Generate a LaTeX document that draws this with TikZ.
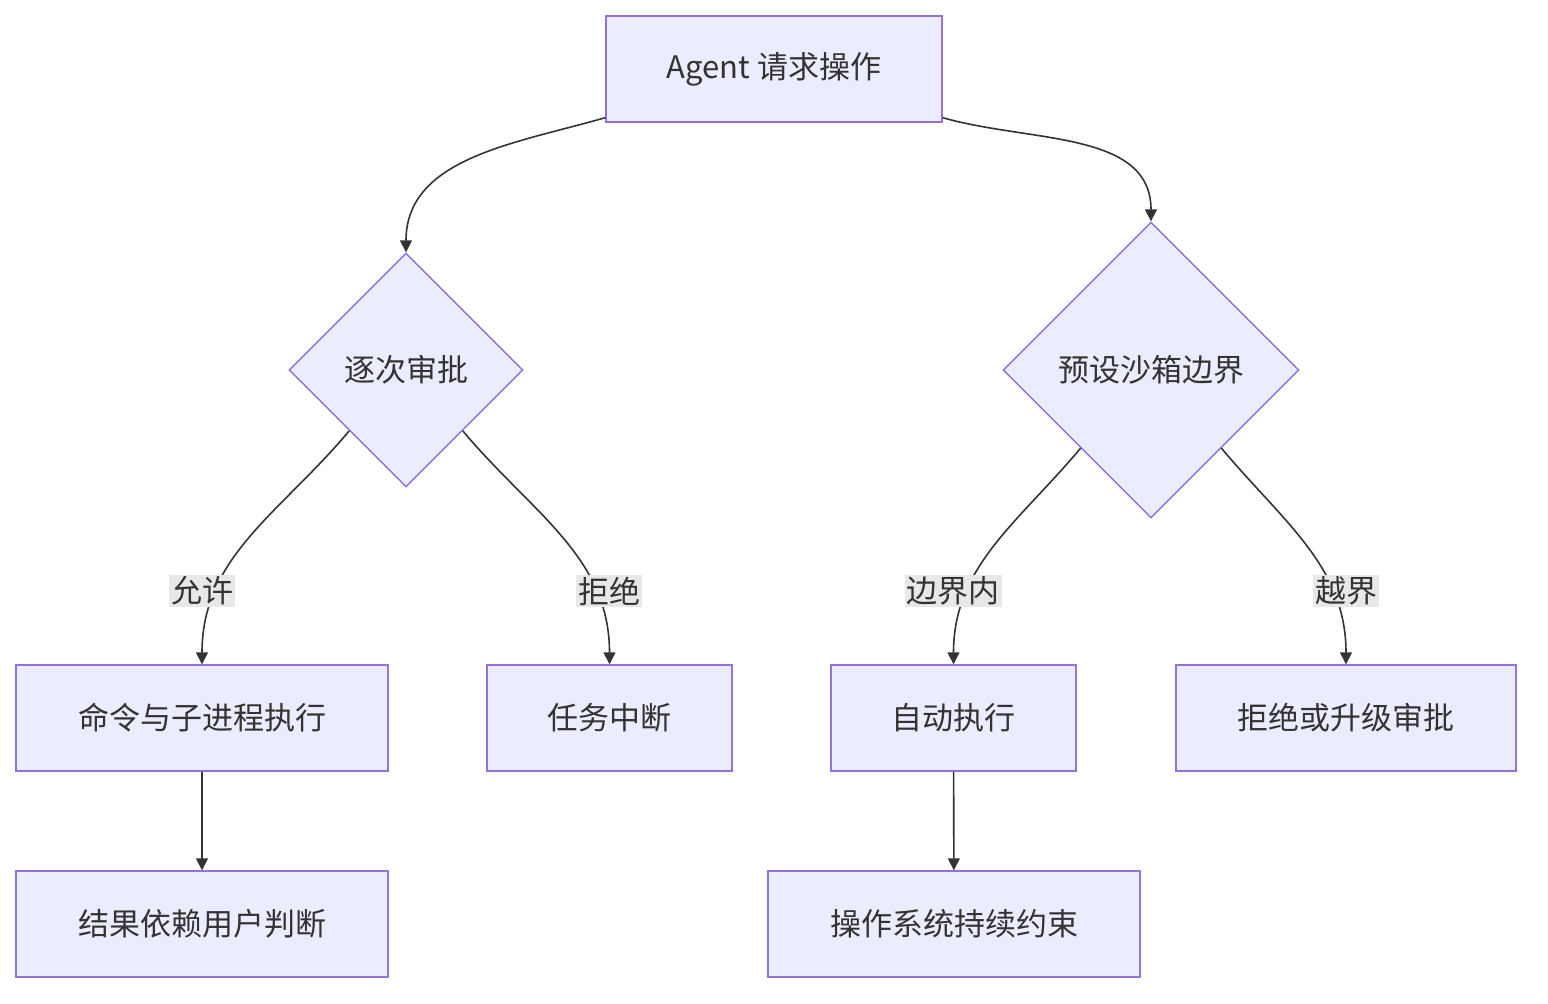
\documentclass[tikz,border=0pt]{standalone}
\usepackage{fontspec}
\setmainfont{Noto Sans CJK SC}
\usetikzlibrary{shapes.geometric,arrows.meta}
\definecolor{boxfill}{HTML}{ECECFF}
\definecolor{boxline}{HTML}{9370DB}
\definecolor{ink}{HTML}{333333}
\definecolor{lblbg}{HTML}{E8E8E8}
\tikzset{
  box/.style = {draw=boxline, fill=boxfill, line width=0.7pt, minimum height=53pt,
    inner sep=0pt, text=ink, font=\fontsize{15.5pt}{18pt}\selectfont},
  choice/.style = {diamond, draw=boxline, fill=boxfill, line width=0.7pt, inner sep=0pt,
    aspect=1, text=ink, font=\fontsize{15.5pt}{18pt}\selectfont},
  lbl/.style = {fill=lblbg, inner sep=1pt, text=ink, font=\fontsize{15.5pt}{18pt}\selectfont},
  arr/.style = {draw=ink, line width=0.8pt, -{Triangle[length=6pt,width=6pt]}},
}
\begin{document}
\begin{tikzpicture}[x=0.5pt, y=-0.5pt]
  \useasboundingbox (0,0) rectangle (1548,1004);
  \node[box, minimum width=168pt] (req) at (774, 69) {Agent 请求操作};
  \node[choice, minimum width=117pt, minimum height=117pt] (step) at (406, 370) {逐次审批};
  \node[choice, minimum width=148pt, minimum height=148pt] (sand) at (1151, 370) {预设沙箱边界};
  \node[box, minimum width=186pt] (run) at (202, 718) {命令与子进程执行};
  \node[box, minimum width=122.5pt] (stop) at (609.5, 718) {任务中断};
  \node[box, minimum width=122.5pt] (auto) at (953.5, 718) {自动执行};
  \node[box, minimum width=170pt] (deny) at (1346, 718) {拒绝或升级审批};
  \node[box, minimum width=186pt] (user) at (202, 924) {结果依赖用户判断};
  \node[box, minimum width=186pt] (os) at (954, 924) {操作系统持续约束};

  % connectors
  \draw[arr] ([yshift=2.5pt]req.south west) to[out=196, in=90] (step.north);
  \draw[arr] ([yshift=2.5pt]req.south east) to[out=-16, in=90] (sand.north);
  \draw[arr] (step.227) to[out=-130, in=90] (run.north);
  \draw[arr] (step.-47) to[out=-50, in=90] (stop.north);
  \draw[arr] (sand.228) to[out=-130, in=90] (auto.north);
  \draw[arr] (sand.-48) to[out=-50, in=90] (deny.north);
  \draw[arr] (run) -- (user);
  \draw[arr] (auto) -- (os);

  % edge labels
  \node[lbl] (yes) at (202, 591) {允许};
  \node[lbl] (no) at (609, 591) {拒绝};
  \node[lbl] (inside) at (953, 591) {边界内};
  \node[lbl] (outside) at (1346, 591) {越界};
\end{tikzpicture}
\end{document}
